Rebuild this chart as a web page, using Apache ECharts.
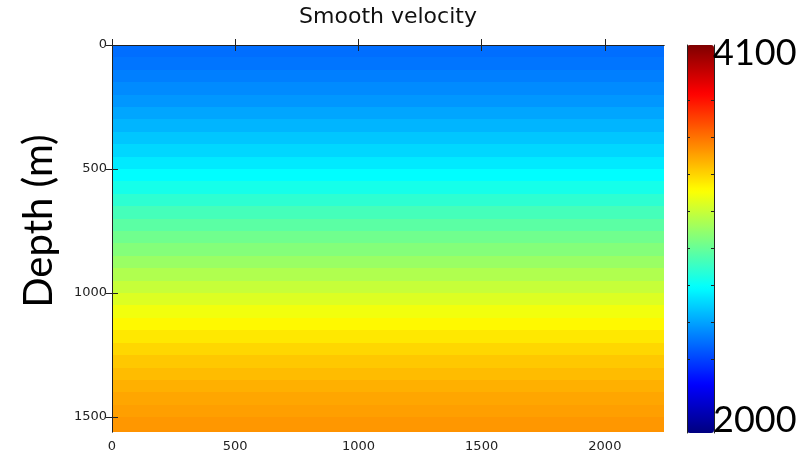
<!DOCTYPE html>
<html><head><meta charset="utf-8">
<script src="https://cdn.jsdelivr.net/npm/echarts@6/dist/echarts.min.js"></script>
<style>html,body{margin:0;padding:0;background:#fff}#c{width:804px;height:455px}</style>
</head><body><div id="c"></div>
<script>
// Layer tops (m) and smoothed velocity (m/s) per layer
const layerTops = [0,50,100,150,200,250,300,350,400,450,500,550,600,650,700,750,800,850,900,950,1000,1050,1100,1150,1200,1250,1300,1350,1400,1450,1500,1550];
const velocity  = [2490,2505,2525,2550,2575,2605,2635,2670,2705,2745,2785,2830,2880,2930,2975,3020,3060,3105,3150,3195,3240,3285,3325,3360,3395,3425,3450,3475,3495,3510,3525,3535];
const maxDepth = 1560;
const maxOffset = 2240;
const xTicks = [0,500,1000,1500,2000];
const yTicks = [0,500,1000,1500];
const vMin = 2000, vMax = 4100;
const colorbarTicks = [2400,2600,2800,3000,3200,3400,3600,3800];
const titleText = 'Smooth velocity';
const yName = 'Depth (m)';
const jet = ['#00007F','#0000FF','#007FFF','#00FFFF','#7FFF7F','#FFFF00','#FF7F00','#FF0000','#7F0000'];

const data = layerTops.map((t, i) => [t, i + 1 < layerTops.length ? layerTops[i + 1] : maxDepth, velocity[i]]);

const axisLineStyle = {lineStyle: {color: '#222', width: 1}};
const tickStyle = {color: '#222'};
const labelFmt = v => String(v);
function mainAxis(extra) {
  return Object.assign({type: 'value', z: 10, splitLine: {show: false}, axisLine: axisLineStyle}, extra);
}
const chart = echarts.init(document.getElementById('c'), null, {renderer: 'canvas'});
chart.setOption({
  animation: false,
  backgroundColor: '#fff',
  title: {
    text: titleText, left: 388, top: 6, padding: 0, textAlign: 'center',
    textStyle: {fontFamily: 'DejaVu Sans', fontSize: 22, fontWeight: 'normal', color: '#111'}
  },
  grid: [
    {left: 112, top: 45, width: 552, height: 387},
    {left: 687, top: 45, width: 27, height: 388}
  ],
  xAxis: [
    mainAxis({gridIndex: 0, min: 0, max: maxOffset, position: 'bottom',
      axisTick: {inside: true, length: 6, customValues: xTicks, lineStyle: tickStyle},
      axisLabel: {customValues: xTicks, formatter: labelFmt, color: '#222', fontFamily: 'DejaVu Sans', fontSize: 13, margin: 8}}),
    mainAxis({gridIndex: 0, min: 0, max: maxOffset, position: 'top',
      axisTick: {inside: true, length: 6, customValues: xTicks, lineStyle: tickStyle},
      axisLabel: {show: false}}),
    {gridIndex: 1, type: 'value', min: 0, max: 1, show: false}
  ],
  yAxis: [
    mainAxis({gridIndex: 0, inverse: true, min: 0, max: maxDepth, position: 'left',
      axisTick: {inside: true, length: 6, customValues: yTicks, lineStyle: tickStyle},
      axisLabel: {customValues: yTicks, formatter: labelFmt, color: '#222', fontFamily: 'DejaVu Sans', fontSize: 13, margin: 5}}),
    mainAxis({gridIndex: 0, inverse: true, min: 0, max: maxDepth, position: 'right',
      axisTick: {inside: true, length: 6, customValues: yTicks, lineStyle: tickStyle},
      axisLabel: {show: false}}),
    mainAxis({gridIndex: 1, min: vMin, max: vMax, position: 'left',
      axisTick: {inside: true, length: 3, customValues: colorbarTicks, lineStyle: tickStyle},
      axisLabel: {show: false}}),
    mainAxis({gridIndex: 1, min: vMin, max: vMax, position: 'right',
      axisTick: {inside: true, length: 3, customValues: colorbarTicks, lineStyle: tickStyle},
      axisLabel: {show: false}})
  ],
  visualMap: {
    type: 'continuous', seriesIndex: 0, dimension: 2, min: vMin, max: vMax,
    inRange: {color: jet}, orient: 'vertical', left: 687, top: 45,
    itemWidth: 27, itemHeight: 388, padding: 0, calculable: false, hoverLink: false
  },
  graphic: [
    {type: 'text', x: 39, y: 221, rotation: Math.PI / 2, z: 20,
      style: {text: yName, font: '40px Lato', fill: '#000', align: 'center', verticalAlign: 'middle'}},
    {type: 'text', left: 713, top: 35, z: 20, style: {text: String(vMax), font: '36px Lato', fill: '#000'}},
    {type: 'text', left: 713, top: 402, z: 20, style: {text: String(vMin), font: '36px Lato', fill: '#000'}}
  ],
  series: [{
    type: 'custom', xAxisIndex: 0, yAxisIndex: 0, data: data,
    encode: {y: [0, 1]},
    renderItem: function (params, api) {
      const p1 = api.coord([0, api.value(0)]);
      const p2 = api.coord([maxOffset, api.value(1)]);
      const y1 = Math.round(p1[1]), y2 = Math.round(p2[1]);
      return {type: 'rect', shape: {x: p1[0], y: y1, width: p2[0] - p1[0], height: y2 - y1},
        style: {fill: api.visual('color')}};
    }
  }]
});
</script></body></html>
